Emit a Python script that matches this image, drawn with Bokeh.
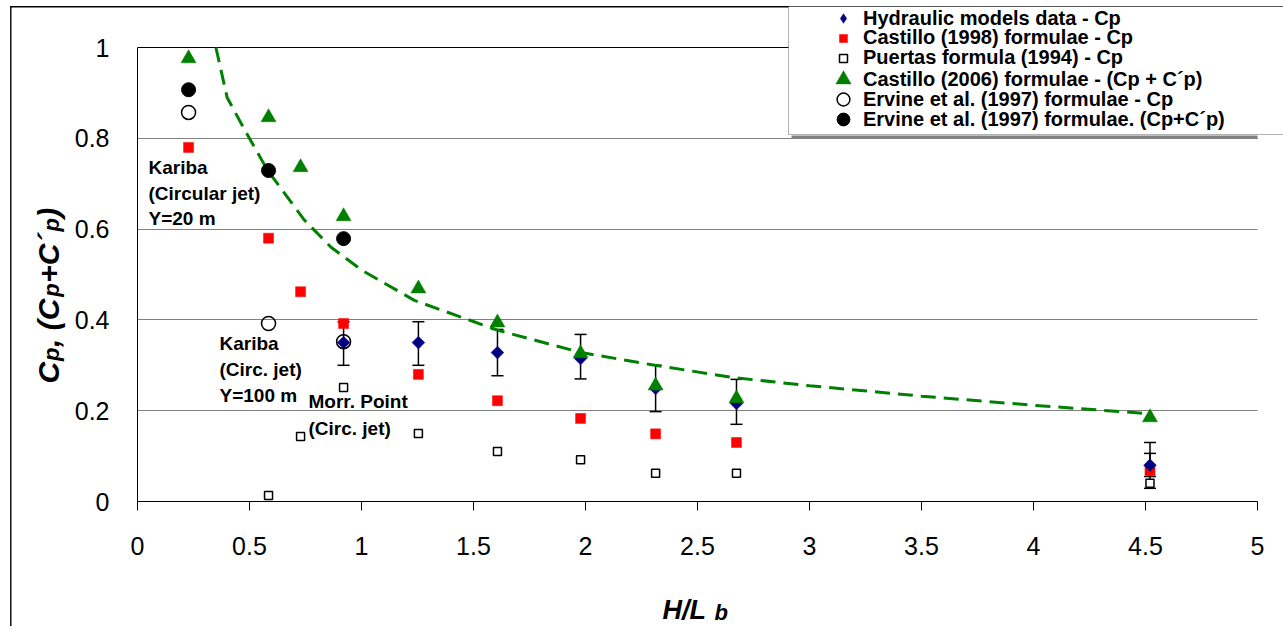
import math
from bokeh.plotting import figure
from bokeh.models import (Range1d, FixedTicker, Legend, LegendItem, Label, BoxAnnotation,
                          Whisker, TeeHead, ColumnDataSource, Grid)
from bokeh.embed import file_html
from bokeh.resources import INLINE
from bokeh.core.properties import value

# ---------------- data ----------------
hyd_x = [0.92, 1.254, 1.607, 1.978, 2.313, 2.674, 4.52]
hyd_y = [0.35, 0.35, 0.328, 0.315, 0.249, 0.216, 0.08]

err_x = [0.92, 1.254, 1.607, 1.978, 2.313, 2.674, 4.52, 4.52]
err_lo = [0.30, 0.30, 0.277, 0.27, 0.198, 0.17, 0.029, 0.055]
err_hi = [0.396, 0.396, 0.379, 0.368, 0.30, 0.269, 0.13, 0.106]

c98_x = [0.228, 0.585, 0.728, 0.92, 1.254, 1.607, 1.978, 2.313, 2.674, 4.52]
c98_y = [0.78, 0.58, 0.462, 0.392, 0.28, 0.222, 0.183, 0.149, 0.130, 0.068]

pu_x = [0.585, 0.728, 0.92, 1.254, 1.607, 1.978, 2.313, 2.674, 4.52]
pu_y = [0.013, 0.143, 0.251, 0.150, 0.110, 0.092, 0.062, 0.062, 0.040]

c06_x = [0.228, 0.585, 0.728, 0.92, 1.254, 1.607, 1.978, 2.313, 2.674, 4.52]
c06_y = [0.976, 0.846, 0.736, 0.628, 0.469, 0.394, 0.326, 0.255, 0.227, 0.185]

erv_x = [0.228, 0.585, 0.92]
erv_cp = [0.857, 0.392, 0.352]
erv_tot = [0.907, 0.729, 0.579]

trend_x = [0.35, 0.40, 0.48, 0.58, 0.745, 0.864, 1.0, 1.236, 1.61, 1.98, 2.31, 2.66, 3.0, 3.5, 4.0, 4.53]
trend_y = [1.0, 0.89, 0.817, 0.73, 0.62, 0.56, 0.51, 0.443, 0.377, 0.328, 0.30, 0.273, 0.255, 0.232, 0.212, 0.193]

x_ticks = [0, 0.5, 1, 1.5, 2, 2.5, 3, 3.5, 4, 4.5, 5]
x_tick_labels = ["0", "0.5", "1", "1.5", "2", "2.5", "3", "3.5", "4", "4.5", "5"]
y_ticks = [0, 0.2, 0.4, 0.6, 0.8, 1]
y_tick_labels = ["0", "0.2", "0.4", "0.6", "0.8", "1"]

legend_labels = ["Hydraulic models data - Cp",
                 "Castillo (1998) formulae - Cp",
                 "Puertas formula (1994) - Cp",
                 "Castillo (2006) formulae - (Cp + C\u00b4p)",
                 "Ervine et al. (1997) formulae - Cp",
                 "Ervine et al. (1997) formulae. (Cp+C\u00b4p)"]

note_text = ["Kariba", "(Circular jet)", "Y=20 m",
             "Kariba", "(Circ. jet)", "Y=100 m",
             "Morr. Point", "(Circ. jet)"]

# ---------------- layout helpers (canvas pixel -> data) ----------------
WIDTH, HEIGHT = 1283, 626
X0, XS = 137.0, 224.0      # pixel of x=0, pixels per x unit
Y0, YS = 501.0, 454.0      # pixel of y=0, pixels per y unit
def dx(px):
    return (px - X0) / XS
def dy(py):
    return (Y0 - py) / YS

note_px = [(148, 167), (148, 193), (148, 218),
           (219, 343), (219, 369), (219, 395),
           (308, 401), (308, 428)]

GREEN = "#008000"
RED = "#FF0000"
NAVY = "#000080"
FONT = "Liberation Sans"

p = figure(width=WIDTH, height=HEIGHT,
           x_range=Range1d(dx(0), dx(WIDTH)), y_range=Range1d(dy(HEIGHT), dy(0)),
           output_backend="svg", toolbar_location=None,
           min_border=0, min_border_left=0, min_border_right=0, min_border_top=0, min_border_bottom=0)
p.outline_line_color = None
p.background_fill_color = "white"
p.border_fill_color = "white"

# axes drawn at x=0 / y=0 inside the frame
p.xaxis.fixed_location = 0
p.yaxis.fixed_location = 0
p.xaxis.bounds = (0, 5)
p.yaxis.bounds = (0, 1)
p.xaxis.ticker = FixedTicker(ticks=x_ticks, minor_ticks=[])
p.xaxis.major_label_overrides = dict(zip(x_ticks, x_tick_labels))
p.yaxis.ticker = FixedTicker(ticks=y_ticks, minor_ticks=[])
p.yaxis.major_label_overrides = dict(zip(y_ticks, y_tick_labels))
for ax in (p.xaxis, p.yaxis):
    ax.axis_line_color = "black"
    ax.axis_line_width = 1
    ax.major_tick_line_color = "black"
    ax.minor_tick_line_color = None
    ax.major_label_text_font = FONT
    ax.major_label_text_font_size = "25px"
    ax.major_label_text_color = "black"
p.xaxis.major_tick_out = 9
p.xaxis.major_tick_in = 0
p.xaxis.major_label_standoff = 26
p.yaxis.major_tick_out = 0
p.yaxis.major_tick_in = 0
p.yaxis.major_label_standoff = 28

p.xgrid.visible = False
p.ygrid.ticker = FixedTicker(ticks=y_ticks[:-1], minor_ticks=[])
p.ygrid.bounds = (0, 1)
p.ygrid.cross_bounds = (0, 5)
p.ygrid.grid_line_color = "#808080"
p.ygrid.grid_line_width = 1
p.add_layout(Grid(dimension=1, ticker=FixedTicker(ticks=[1], minor_ticks=[]), bounds=(0, 1),
                  cross_bounds=(0, 5), grid_line_color="black", grid_line_width=1))

# error bars
err_src = ColumnDataSource(dict(x=err_x, lower=err_lo, upper=err_hi))
p.add_layout(Whisker(source=err_src, base="x", lower="lower", upper="upper", dimension="height",
                     line_color="black", line_width=1.5,
                     upper_head=TeeHead(size=12, line_color="black", line_width=1.5),
                     lower_head=TeeHead(size=12, line_color="black", line_width=1.5)))

# trend line
p.line(trend_x, trend_y, line_color=GREEN, line_width=3, line_dash="15 8")

r_c98 = p.scatter(c98_x, c98_y, marker="square", size=10, fill_color=RED, line_color=RED, line_width=0.5)
r_pu = p.scatter(pu_x, pu_y, marker="square", size=8, fill_color="white", line_color="black", line_width=1.5)
# legend key for the diamonds (hidden under the rotated squares; the legend does not rotate markers)
r_hyd_key = p.scatter(hyd_x, hyd_y, marker="diamond", size=11, fill_color=NAVY, line_color=NAVY, line_width=0.5)
r_hyd = p.scatter(hyd_x, hyd_y, marker="square", angle=math.pi / 4, size=9, fill_color=NAVY, line_color=NAVY, line_width=0.5)
r_c06 = p.scatter(c06_x, c06_y, marker="triangle", size=15, fill_color=GREEN, line_color=GREEN, line_width=0.5)
r_ecp = p.scatter(erv_x, erv_cp, marker="circle", size=14, fill_color=None, line_color="black", line_width=1.5)
r_etot = p.scatter(erv_x, erv_tot, marker="circle", size=14, fill_color="black", line_color="black", line_width=1)

# notes
p.text(x=[dx(a) for a, b in note_px], y=[dy(b) for a, b in note_px], text=note_text,
       text_font=value(FONT), text_font_style="bold", text_font_size="19px",
       text_baseline="middle", text_align="left", text_color="black")

# outer chart border (thin filled strips) and legend box
p.add_layout(BoxAnnotation(left=dx(10), right=dx(1600), top=dy(5.6), bottom=dy(7),
                           fill_color="black", fill_alpha=1, line_alpha=0))
p.add_layout(BoxAnnotation(left=dx(9.6), right=dx(11), top=dy(5.6), bottom=dy(900),
                           fill_color="black", fill_alpha=1, line_alpha=0))
p.add_layout(BoxAnnotation(left=dx(791), right=dx(1257), top=dy(135), bottom=dy(138.5),
                           fill_color="#808080", fill_alpha=1, line_alpha=0))
p.add_layout(BoxAnnotation(left=dx(788), right=dx(1600), top=dy(6), bottom=dy(134),
                           fill_color="white", fill_alpha=1, line_color="black", line_width=1))

# legend: one block per row so that marker sizes can differ
rows_cy = [18, 39, 59, 79, 99, 119]
rows_r = [r_hyd_key, r_c98, r_pu, r_c06, r_ecp, r_etot]
rows_gh = [24, 20, 20, 38, 32, 32]
GX = 843
for lab, r, gh, cy in zip(legend_labels, rows_r, rows_gh, rows_cy):
    h = max(gh, 20)
    leg = Legend(items=[LegendItem(label=lab, renderers=[r])],
                 location=(GX - 20, (HEIGHT - cy) - h // 2),
                 orientation="vertical", glyph_width=40, glyph_height=gh, label_height=20,
                 label_standoff=-10, padding=0, margin=0, spacing=0,
                 border_line_alpha=0, background_fill_alpha=0,
                 label_text_font=FONT, label_text_font_style="bold",
                 label_text_font_size="20px", label_text_color="black")
    p.add_layout(leg)

# axis titles made of pieces (subscripts)
BIG, SUB = 30, 22
W = {"C": 0.722, "p": 0.611, ",": 0.278, " ": 0.278, "(": 0.333, ")": 0.333, "+": 0.584,
     "\u00b4": 0.333, "H": 0.722, "/": 0.278, "L": 0.611, "b": 0.611}
def width(s, fs):
    return sum(W.get(c, 0.6) for c in s) * fs

ylab = [("C", False), ("p", True), (", (C", False), ("p", True), ("+C\u00b4", False), ("p", True), (")", False)]
cur = 383.0
for s, is_sub in ylab:
    fs = SUB if is_sub else BIG
    bx = 51 if is_sub else 48
    p.add_layout(Label(x=dx(bx), y=dy(cur), text=s, angle=math.pi / 2,
                       text_align="left", text_baseline="alphabetic",
                       text_font=FONT, text_font_style="bold italic",
                       text_font_size=f"{fs}px", text_color="black"))
    cur -= width(s, fs) * 1.04

p.add_layout(Label(x=dx(662), y=dy(609), text="H/L", text_align="left", text_baseline="alphabetic",
                   text_font=FONT, text_font_style="bold italic", text_font_size="27px", text_color="black"))
p.add_layout(Label(x=dx(714), y=dy(612), text="b", text_align="left",
                   text_baseline="alphabetic", text_font=FONT, text_font_style="bold italic",
                   text_font_size=f"{SUB}px", text_color="black"))

open("out.html", "w").write(file_html(p, INLINE))
